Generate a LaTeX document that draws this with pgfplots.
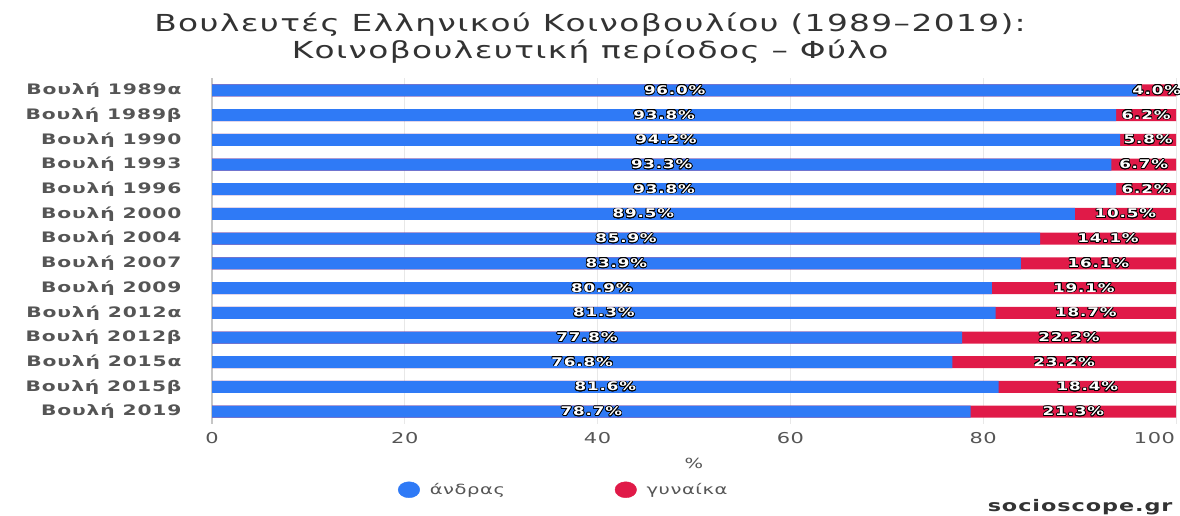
\documentclass[border=0pt]{standalone}
\usepackage{fontspec}
\setmainfont{DejaVu Sans}[FakeStretch=1.4]
\usepackage{pgfplots}
\usepackage{pgfplotstable}
\pgfplotsset{compat=1.18}
\usepackage{contour}
\contourlength{0.7pt}
\definecolor{mblue}{RGB}{47,122,246}
\definecolor{wred}{RGB}{224,26,72}
\definecolor{lblgray}{RGB}{85,85,85}
\definecolor{ttlgray}{RGB}{51,51,51}

% men / women share per parliament (%)
\pgfplotstableread{
i m w
0 96.0 4.0
1 93.8 6.2
2 94.2 5.8
3 93.3 6.7
4 93.8 6.2
5 89.5 10.5
6 85.9 14.1
7 83.9 16.1
8 80.9 19.1
9 81.3 18.7
10 77.8 22.2
11 76.8 23.2
12 81.6 18.4
13 78.7 21.3
}\parl

\begin{document}
\begin{tikzpicture}
\path[use as bounding box] (0,0) rectangle (1180bp,-516bp);
\begin{axis}[
    at={(212bp,-424bp)}, anchor=south west,
    scale only axis, width=964bp, height=346bp,
    xmin=0, xmax=100, ymin=-0.5, ymax=13.5,
    y dir=reverse,
    /pgf/number format/assume math mode=true,
    xtick={0,20,...,100},
    xticklabels={0,20,40,60,80,\makebox[0pt][r]{100}\hspace*{2bp}},
    ytick={0,...,13},
    yticklabels={Βουλή 1989α,Βουλή 1989β,Βουλή 1990,Βουλή 1993,Βουλή 1996,Βουλή 2000,Βουλή 2004,Βουλή 2007,Βουλή 2009,Βουλή 2012α,Βουλή 2012β,Βουλή 2015α,Βουλή 2015β,Βουλή 2019},
    axis line style={draw=none},
    tick style={draw=none},
    xmajorgrids,
    grid style={gray!18, line width=1pt},
    extra x ticks={0},
    extra x tick labels={},
    extra x tick style={grid style={gray!45, line width=2pt}},
    xticklabel style={font=\fontsize{15}{15}\selectfont\addfontfeature{LetterSpace=4}, text=lblgray, yshift=-5bp},
    yticklabel style={font=\bfseries\fontsize{14.5}{14.5}\selectfont\addfontfeature{LetterSpace=6}, text=lblgray, anchor=east, xshift=-27bp},
    xlabel={\%},
    xlabel style={font=\fontsize{14}{14}\selectfont, text=lblgray, yshift=-7bp},
    legend style={draw=none, fill=none, legend columns=2, at={(0.365,-0.19)}, anchor=center,
        font=\fontsize{14}{14}\selectfont\addfontfeature{LetterSpace=4}, text=lblgray,
        /tikz/every odd column/.append style={column sep=8bp},
        /tikz/every even column/.append style={column sep=108bp}},
]
\addplot[xbar, bar width=12bp, fill=wred, draw=none, forget plot]
    table[x expr=\thisrow{m}+\thisrow{w}, y=i]{\parl};
\addplot[xbar, bar width=12bp, fill=mblue, draw=none, forget plot]
    table[x=m, y=i]{\parl};
\addplot[only marks, mark=none, forget plot, point meta=explicit,
    nodes near coords={\contour{black}{\pgfmathprintnumber[fixed,fixed zerofill,precision=1]{\pgfplotspointmeta}\%}},
    nodes near coords style={anchor=center, font=\bfseries\fontsize{12}{12}\selectfont\addfontfeature{LetterSpace=7}, text=white}]
    table[x expr=\thisrow{m}/2, y=i, meta=m]{\parl};
\addplot[only marks, mark=none, forget plot, point meta=explicit,
    nodes near coords={\contour{black}{\pgfmathprintnumber[fixed,fixed zerofill,precision=1]{\pgfplotspointmeta}\%}},
    nodes near coords style={anchor=center, font=\bfseries\fontsize{12}{12}\selectfont\addfontfeature{LetterSpace=7}, text=white}]
    table[x expr=\thisrow{m}+\thisrow{w}/2, y=i, meta=w]{\parl};
\addlegendimage{only marks, mark=*, mark size=8bp, mark options={xscale=1.35}, color=mblue}
\addlegendentry{άνδρας}
\addlegendimage{only marks, mark=*, mark size=8bp, mark options={xscale=1.35}, color=wred}
\addlegendentry{γυναίκα}
\end{axis}
\node[text=ttlgray, font=\fontsize{23.5}{23.5}\selectfont\addfontfeature{LetterSpace=6}] at (590bp,-25bp) {Βουλευτές Ελληνικού Κοινοβουλίου (1989–2019):};
\node[text=ttlgray, font=\fontsize{23.5}{23.5}\selectfont\addfontfeature{LetterSpace=6}] at (590bp,-52bp) {Κοινοβουλευτική περίοδος – Φύλο};
\node[anchor=east, text=ttlgray, font=\bfseries\fontsize{16}{16}\selectfont\addfontfeature{LetterSpace=6}] at (1176bp,-507bp) {socioscope.gr};
\end{tikzpicture}
\end{document}
